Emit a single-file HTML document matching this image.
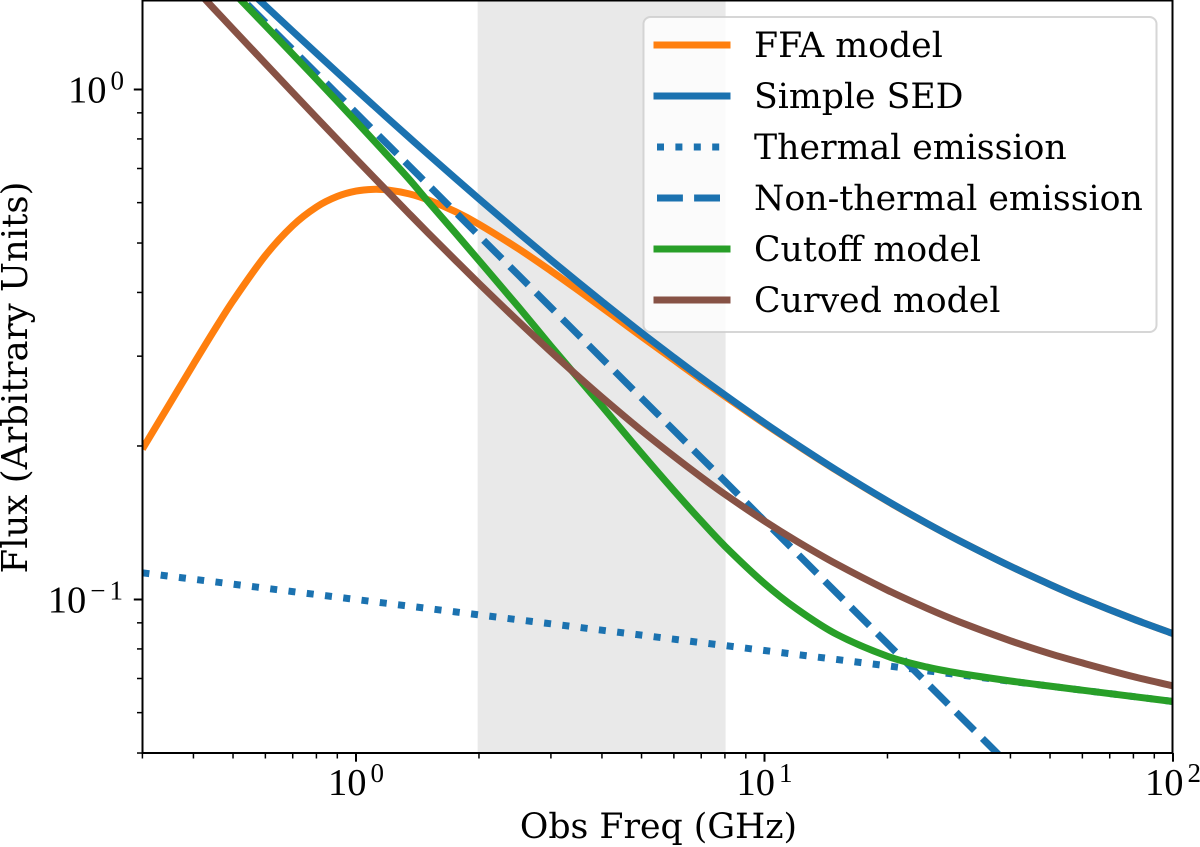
<!DOCTYPE html>
<html>
<head>
<meta charset="utf-8">
<title>Radio SED models</title>
<style>
html,body{margin:0;padding:0;background:#fff;width:1200px;height:847px;overflow:hidden}
svg{display:block;overflow:hidden}
text{font-family:"DejaVu Serif","Liberation Serif",serif;fill:#000}
text.tick{font-family:"Liberation Serif","DejaVu Serif",serif}
</style>
</head>
<body>
<svg id="chart" xmlns="http://www.w3.org/2000/svg" width="1200" height="847" viewBox="0 0 1200 847">
  <defs><clipPath id="plot-clip"><rect x="142.5" y="0" width="1030" height="753.5"></rect></clipPath></defs>
  <g id="band"></g>
  <g id="series" clip-path="url(#plot-clip)"></g>
  <g id="axes"></g>
  <g>
    <rect x="643.5" y="17" width="513" height="315" rx="7" ry="7" fill="#fff" fill-opacity="0.8" stroke="#ccc" stroke-opacity="0.8" stroke-width="2"></rect>
    <line x1="657" x2="727" y1="45" y2="45" stroke="#ff7f0e" stroke-width="7" stroke-linecap="square"></line>
    <text x="754" y="57" font-size="34.7">FFA model</text>
    <line x1="657" x2="727" y1="96" y2="96" stroke="#1b72b0" stroke-width="7" stroke-linecap="square"></line>
    <text x="754" y="108" font-size="34.7">Simple SED</text>
    <line x1="657" x2="727" y1="147" y2="147" stroke="#1b72b0" stroke-width="7" stroke-dasharray="7 11.4"></line>
    <text x="754" y="159" font-size="34.7">Thermal emission</text>
    <line x1="657" x2="727" y1="198" y2="198" stroke="#1b72b0" stroke-width="7" stroke-dasharray="25.9 11.2"></line>
    <text x="754" y="210" font-size="34.7">Non-thermal emission</text>
    <line x1="657" x2="727" y1="249" y2="249" stroke="#289f28" stroke-width="7" stroke-linecap="square"></line>
    <text x="754" y="261" font-size="34.7">Cutoff model</text>
    <line x1="657" x2="727" y1="300" y2="300" stroke="#875245" stroke-width="7" stroke-linecap="square"></line>
    <text x="754" y="312" font-size="34.7">Curved model</text>
  </g>
  <text x="658.5" y="838" font-size="34.7" text-anchor="middle">Obs Freq (GHz)</text>
  <text transform="translate(27 377.5) rotate(-90)" font-size="35.5" text-anchor="middle">Flux (Arbitrary Units)</text>
</svg>
<script>
const freqs = [0.3,0.35,0.4,0.45,0.5,0.6,0.7,0.8,0.9,1,1.1,1.2,1.35,1.5,1.75,2,2.5,3,3.5,4,5,6,7,8,10,12,15,20,25,30,40,50,60,80,100];
const ffaModel = [0.1972,0.2421,0.2892,0.3374,0.3852,0.4725,0.5409,0.5882,0.6171,0.6321,0.6371,0.6351,0.6243,0.6077,0.5763,0.5443,0.4870,0.4410,0.4039,0.3737,0.3278,0.2949,0.2697,0.2502,0.2211,0.2008,0.1791,0.1558,0.1409,0.1304,0.1162,0.1070,0.1004,0.09155,0.08571];
const simpleSed = [2.471,2.1956,1.9829,1.8134,1.6742,1.4595,1.3008,1.1782,1.0802,1.0,0.9330,0.8761,0.8051,0.7467,0.6698,0.6102,0.5236,0.4633,0.4186,0.3840,0.3334,0.2983,0.2720,0.2518,0.2220,0.2013,0.1794,0.1560,0.1410,0.1304,0.1162,0.1070,0.1004,0.09155,0.08571];
const thermalEmission = [0.11279,0.11106,0.10960,0.10832,0.10718,0.10524,0.10363,0.10226,0.10106,0.1,0.09905,0.09819,0.09705,0.09603,0.09456,0.09330,0.09124,0.08960,0.08822,0.08706,0.08513,0.08359,0.08231,0.08123,0.07943,0.07800,0.07628,0.07411,0.07248,0.07117,0.06915,0.06762,0.06640,0.06452,0.06310];
const nonThermalEmission = [2.358,2.0845,1.8733,1.7051,1.5670,1.3543,1.1972,1.0759,0.9791,0.9,0.8339,0.7779,0.7080,0.6507,0.5752,0.5169,0.4324,0.3737,0.3304,0.2969,0.2483,0.2147,0.1897,0.1706,0.1426,0.1233,0.1031,0.08193,0.06854,0.05924,0.04706,0.03936,0.03402,0.02703,0.02261];
const cutoffModel = [2.3595,2.0812,1.8658,1.6940,1.5528,1.3346,1.1729,1.0479,0.9479,0.8659,0.7975,0.7393,0.6666,0.6035,0.5235,0.4620,0.3745,0.3140,0.2715,0.2395,0.1935,0.1635,0.1425,0.1272,0.1075,0.0958,0.0855,0.0774,0.0737,0.07164,0.06922,0.06763,0.0664,0.06452,0.0631];
const curvedModel = [2.0319,1.7811,1.5893,1.4372,1.3135,1.1245,0.9865,0.8813,0.7984,0.7310,0.6753,0.6285,0.5706,0.5237,0.4629,0.4165,0.3507,0.3060,0.2737,0.2492,0.2144,0.1909,0.1738,0.1608,0.1425,0.1301,0.1174,0.1043,0.0961,0.0904,0.0830,0.0783,0.0751,0.0706,0.0677];
const bandRange = [1.985,8.03];
const xMajorTicks = [1,10,100];
const xMajorExponents = ["0","1","2"];
const xMinorTicks = [0.3,0.4,0.5,0.6,0.7,0.8,0.9,2,3,4,5,6,7,8,9,20,30,40,50,60,70,80,90];
const yMajorTicks = [1,0.1];
const yMajorExponents = ["0","\u22121"];
const yMinorTicks = [0.05,0.06,0.07,0.08,0.09,0.2,0.3,0.4,0.5,0.6,0.7,0.8,0.9];
const yLimitLow = 0.05;

const NS = 'http://www.w3.org/2000/svg';
const plotLeft = 142.5, plotRight = 1172.5, plotTop = 0.5, plotBottom = 753;
function xScale(v){ return 356 + 408.5 * Math.log10(v); }
function yScale(v){ return 89.5 - 510 * Math.log10(v); }
function mk(tag, parent, attrs){
  const el = document.createElementNS(NS, tag);
  for (const k in attrs) el.setAttribute(k, attrs[k]);
  parent.appendChild(el);
  return el;
}
function curve(values){
  /* Stop one sample after the curve leaves the bottom of the axes; the remainder is never visible. */
  let end = values.findIndex(v => v < yLimitLow);
  end = end < 0 ? values.length : end + 1;
  const p = values.slice(0, end).map((v,i)=>[xScale(freqs[i]), yScale(v)]);
  let d = 'M' + p[0][0].toFixed(2) + ' ' + p[0][1].toFixed(2);
  for (let i = 0; i < p.length - 1; i++){
    const a = p[Math.max(i-1,0)], b = p[i], c = p[i+1], e = p[Math.min(i+2,p.length-1)];
    const h = c[0] - b[0];
    const m1 = (c[1]-a[1]) / Math.max(c[0]-a[0],1e-6);
    const m2 = (e[1]-b[1]) / Math.max(e[0]-b[0],1e-6);
    d += 'C' + (b[0]+h/3).toFixed(2) + ' ' + (b[1]+m1*h/3).toFixed(2) + ' ' +
         (c[0]-h/3).toFixed(2) + ' ' + (c[1]-m2*h/3).toFixed(2) + ' ' +
         c[0].toFixed(2) + ' ' + c[1].toFixed(2);
  }
  return d;
}

const bandGroup = document.getElementById('band');
const bandRect = mk('rect', bandGroup, {x:xScale(bandRange[0]), y:plotTop, width:xScale(bandRange[1])-xScale(bandRange[0]), height:plotBottom-plotTop, fill:'#e9e9e9'});



const seriesGroup = document.getElementById('series');
const lineFfa = mk('path', seriesGroup, {d:curve(ffaModel), fill:'none', stroke:'#ff7f0e', 'stroke-width':7});


const lineSimple = mk('path', seriesGroup, {d:curve(simpleSed), fill:'none', stroke:'#1b72b0', 'stroke-width':7});


const lineThermal = mk('path', seriesGroup, {d:curve(thermalEmission), fill:'none', stroke:'#1b72b0', 'stroke-width':7, 'stroke-dasharray':'7 11.4'});


const lineNonThermal = mk('path', seriesGroup, {d:curve(nonThermalEmission), fill:'none', stroke:'#1b72b0', 'stroke-width':7, 'stroke-dasharray':'25.9 11.2'});


const lineCutoff = mk('path', seriesGroup, {d:curve(cutoffModel), fill:'none', stroke:'#289f28', 'stroke-width':7});


const lineCurved = mk('path', seriesGroup, {d:curve(curvedModel), fill:'none', stroke:'#875245', 'stroke-width':7});



const axesGroup = document.getElementById('axes');
const frame = mk('rect', axesGroup, {x:plotLeft, y:plotTop, width:plotRight-plotLeft, height:plotBottom-plotTop, fill:'none', stroke:'#000', 'stroke-width':2});



function addExponent(label, text){
  const s = mk('tspan', label, {dy:-13, dx:4, 'font-size':27});
  if (text.length > 1) s.setAttribute('letter-spacing', '4');
  s.textContent = text;
}
xMinorTicks.forEach(v => {
  const t = mk('line', axesGroup, {x1:xScale(v), x2:xScale(v), y1:plotBottom, y2:plotBottom+5.5, stroke:'#000', 'stroke-width':1.5});
  
  
});
yMinorTicks.forEach(v => {
  const t = mk('line', axesGroup, {x1:plotLeft-5.5, x2:plotLeft, y1:yScale(v), y2:yScale(v), stroke:'#000', 'stroke-width':1.5});
  
  
});
xMajorTicks.forEach((v,i) => {
  const t = mk('line', axesGroup, {x1:xScale(v), x2:xScale(v), y1:plotBottom, y2:plotBottom+8.7, stroke:'#000', 'stroke-width':2});
  
  
  const l = mk('text', axesGroup, {class:'tick', x:xScale(v), y:795, 'font-size':38.5, 'text-anchor':'middle'});
  
  
  l.appendChild(document.createTextNode('10'));
  addExponent(l, xMajorExponents[i]);
});
yMajorTicks.forEach((v,i) => {
  const t = mk('line', axesGroup, {x1:plotLeft-8.7, x2:plotLeft, y1:yScale(v), y2:yScale(v), stroke:'#000', 'stroke-width':2});
  
  
  const extra = yMajorExponents[i].length > 1 ? 3 : 0;
  const l = mk('text', axesGroup, {class:'tick', x:plotLeft-18.5+extra, y:yScale(v)+13, 'font-size':38.5, 'text-anchor':'end'});
  
  
  l.appendChild(document.createTextNode('10'));
  addExponent(l, yMajorExponents[i]);
});
</script>
</body>
</html>
